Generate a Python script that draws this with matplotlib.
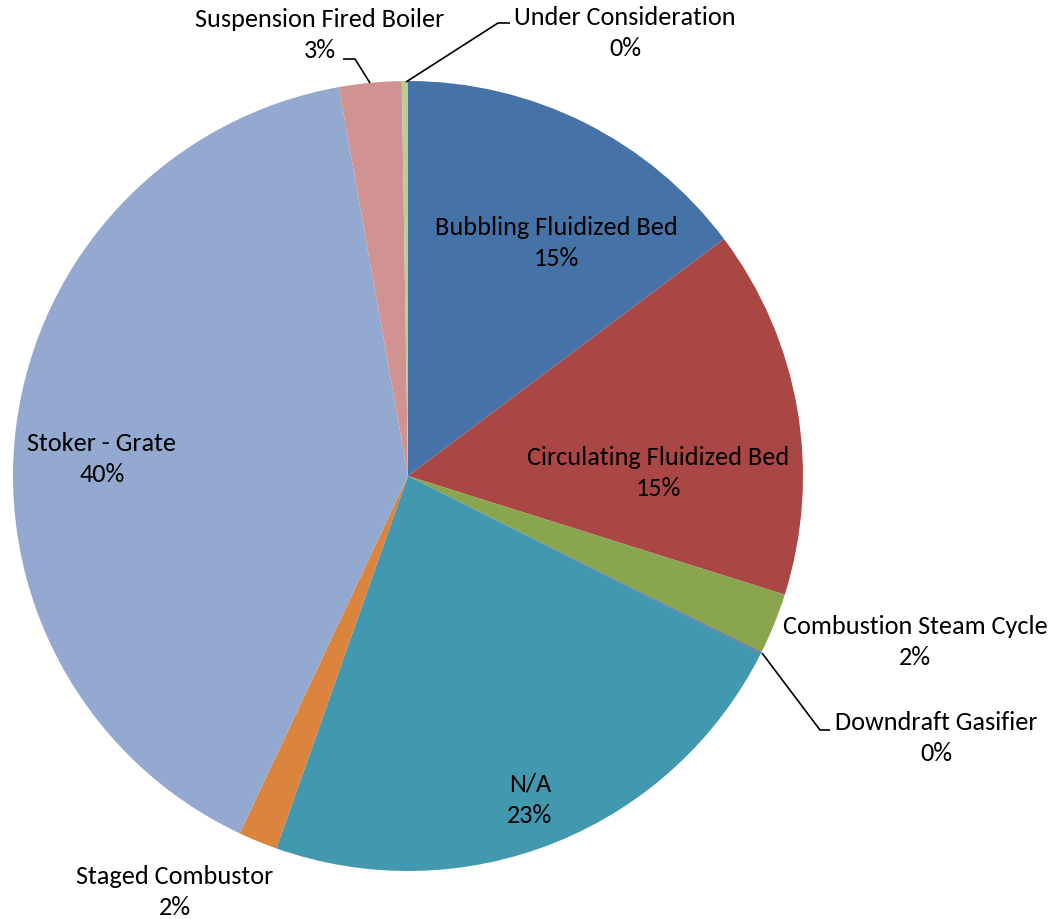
import matplotlib
matplotlib.use("Agg")
import matplotlib.pyplot as plt

categories = ["Bubbling Fluidized Bed", "Circulating Fluidized Bed", "Combustion Steam Cycle",
              "Downdraft Gasifier", "N/A", "Staged Combustor", "Stoker - Grate",
              "Suspension Fired Boiler", "Under Consideration"]
values = [14.76, 15.1, 2.5, 0.05, 23.0, 1.6, 40.2, 2.55, 0.25]
pct_labels = ["15%", "15%", "2%", "0%", "23%", "2%", "40%", "3%", "0%"]
colors = ["#4572A7", "#AA4643", "#89A54E", "#71588F", "#4198AF", "#DB843D",
          "#93A9CF", "#D19392", "#B9CD96"]

W, H = 1057, 919
cx, cy, R = 408, 476, 395

fig = plt.figure(figsize=(W / 100, H / 100), dpi=100)
ax = fig.add_axes([0, 0, 1, 1])
ax.pie(values, colors=colors, startangle=90, counterclock=False, radius=1,
       wedgeprops=dict(linewidth=0), center=(0, 0))
ax.set_xlim(-cx / R, (W - cx) / R)
ax.set_ylim(-(H - cy) / R, cy / R)
ax.set_aspect("equal")
ax.axis("off")

def P(x, y):
    return ((x - cx) / R, (cy - y) / R)

label_pos = [(556, 243), (658, 473), (915, 642), (936, 738), (530, 800),
             (175, 892), (102, 459), (320, 35), (625, 33)]
font = dict(fontsize=18.9, family=["Carlito", "Open Sans", "DejaVu Sans"], color="black")
for name, pct, pos in zip(categories, pct_labels, label_pos):
    ax.text(*P(*pos), f"{name}\n{pct}", ha="center", va="center",
            multialignment="center", linespacing=1.45, **font)

leaders = [
    [(762, 653), (820, 730), (830, 730)],
    [(370, 83), (355, 59), (343, 59)],
    [(406, 82), (498, 23), (510, 23)],
]
for pts in leaders:
    xs, ys = zip(*[P(*p) for p in pts])
    ax.plot(xs, ys, color="black", linewidth=1.2, solid_capstyle="butt")

fig.savefig("out.png", dpi=100)
